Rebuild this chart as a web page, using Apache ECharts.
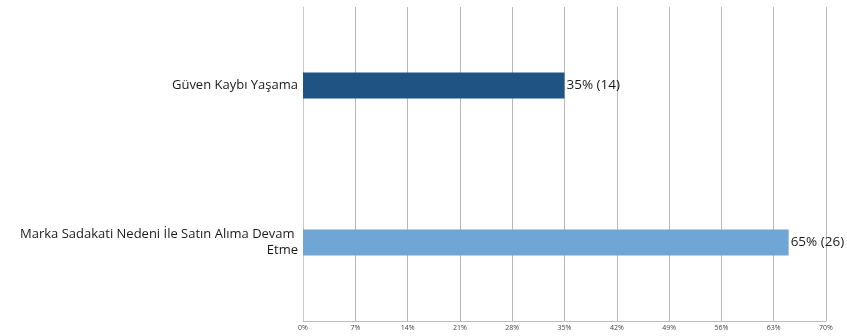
<!DOCTYPE html>
<html>
<head>
<meta charset="utf-8">
<script src="https://cdn.jsdelivr.net/npm/echarts@6/dist/echarts.min.js"></script>
<style>
  html, body { margin: 0; padding: 0; background: #ffffff; }
  #chart { width: 847px; height: 336px; }
</style>
</head>
<body>
<div id="chart"></div>
<script>
// Response categories, listed top to bottom
const categories = [
  'Güven Kaybı Yaşama',
  'Marka Sadakati Nedeni İle Satın Alıma Devam Etme'
];
// Share of respondents (%) and respondent counts
const percentages = [35, 65];
const counts = [14, 26];
const barColors = ['#1f5384', '#6fa6d6'];
// Value axis ticks
const axisMin = 0;
const axisMax = 70;
const axisStep = 7;

const chart = echarts.init(document.getElementById('chart'));

chart.setOption({
  animation: false,
  grid: {
    left: 303, right: 21, top: 7, bottom: 15,
    containLabel: false,
    outerBoundsMode: 'none'
  },
  xAxis: {
    type: 'value',
    min: axisMin,
    max: axisMax,
    interval: axisStep,
    axisLine: { show: true, lineStyle: { color: '#bdbdbd', width: 1 } },
    axisTick: { show: false },
    axisLabel: {
      formatter: '{value}%',
      fontFamily: 'Open Sans',
      fontSize: 7,
      color: '#444',
      margin: 3
    },
    splitLine: { show: true, lineStyle: { color: '#b8b8b8', width: 1 } }
  },
  yAxis: {
    type: 'category',
    inverse: true,
    data: categories,
    axisLine: { show: true, lineStyle: { color: '#c8c8c8', width: 1 } },
    axisTick: { show: false },
    axisLabel: {
      fontFamily: 'Open Sans',
      fontSize: 13,
      color: '#1a1a1a',
      margin: 5,
      width: 330,
      overflow: 'break',
      align: 'right',
      lineHeight: 16
    }
  },
  series: [{
    type: 'bar',
    barWidth: 26,
    data: percentages.map((v, i) => ({ value: v, itemStyle: { color: barColors[i] } })),
    label: {
      show: true,
      position: 'right',
      distance: 2,
      fontFamily: 'Open Sans',
      fontSize: 13.5,
      color: '#1a1a1a',
      formatter: p => p.value + '% (' + counts[p.dataIndex] + ')'
    }
  }]
});
</script>
</body>
</html>
